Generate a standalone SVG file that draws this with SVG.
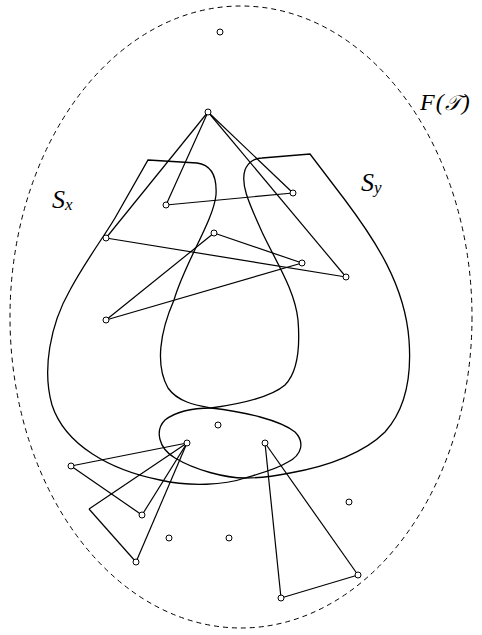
<svg xmlns="http://www.w3.org/2000/svg" width="482" height="635" viewBox="0 0 482 635">
<style>
.pt{fill:#fff;stroke:#000;stroke-width:1}
.ln{stroke:#000;stroke-width:1.2;fill:none}
.rg{stroke:#000;stroke-width:1.3;fill:none}
.bd{stroke:#000;stroke-width:1;fill:none;stroke-dasharray:5,4}
.lb{font-family:"Liberation Serif","DejaVu Serif",serif;font-style:italic;fill:#000}
</style>
<rect width="482" height="635" fill="#fff"/>
<g id="boundary">
<ellipse class="bd" cx="241" cy="317" rx="231" ry="311"/>
<text class="lb" x="420" y="110" font-size="24" letter-spacing="1">F(<tspan font-family="DejaVu Sans, DejaVu Serif, serif" font-size="21">𝒯</tspan>)</text>
</g>
<g id="Sx">
<path class="rg" d="M148,160 L197,163 C212,165 217,178 216,195 C213,222 185,262 174,300 C160,332 155,365 168,388 C178,402 195,405 211,408 C245,412 280,420 295,432 C305,442 302,455 288,462 C275,470 258,474 245,478 C225,485 190,487 160,480 C110,470 65,445 52,405 C42,370 50,325 70,290 C85,262 105,235 115,218 L148,160 Z"/>
<text class="lb" x="52" y="208" font-size="26">S<tspan font-size="17" dy="2">x</tspan></text>
</g>
<g id="Sy">
<path class="rg" d="M262,158 L310,154 L345,200 C375,240 405,285 409,340 C412,380 405,410 385,432 C365,452 330,466 290,473 C270,477 255,478 245,478 C225,478 195,470 175,458 C158,448 155,430 165,420 C178,410 195,408 211,408 C240,404 270,398 285,385 C298,372 300,345 298,320 C295,290 275,260 262,232 C250,205 240,185 245,170 C248,162 255,158 262,158 Z"/>
<text class="lb" x="361" y="191" font-size="26">S<tspan font-size="17" dy="2">y</tspan></text>
</g>
<g id="edges">
<line class="ln" x1="208" y1="112" x2="166" y2="205"/>
<line class="ln" x1="208" y1="112" x2="106" y2="238"/>
<line class="ln" x1="208" y1="112" x2="293" y2="193"/>
<line class="ln" x1="208" y1="112" x2="346" y2="277"/>
<line class="ln" x1="166" y1="205" x2="293" y2="193"/>
<line class="ln" x1="106" y1="238" x2="346" y2="277"/>
<line class="ln" x1="214" y1="233" x2="302" y2="263"/>
<line class="ln" x1="214" y1="233" x2="106" y2="320"/>
<line class="ln" x1="106" y1="320" x2="302" y2="263"/>
<line class="ln" x1="187" y1="443" x2="71" y2="466"/>
<line class="ln" x1="187" y1="443" x2="142" y2="515"/>
<line class="ln" x1="71" y1="466" x2="142" y2="515"/>
<line class="ln" x1="187" y1="443" x2="89" y2="509"/>
<line class="ln" x1="89" y1="509" x2="136" y2="562"/>
<line class="ln" x1="187" y1="443" x2="136" y2="562"/>
<line class="ln" x1="265" y1="443" x2="281" y2="598"/>
<line class="ln" x1="265" y1="443" x2="358" y2="575"/>
<line class="ln" x1="281" y1="598" x2="358" y2="575"/>
</g>
<g id="n0"><circle class="pt" cx="220" cy="32" r="3"/></g>
<g id="n1"><circle class="pt" cx="208" cy="112" r="3"/></g>
<g id="n2"><circle class="pt" cx="166" cy="205" r="3"/></g>
<g id="n3"><circle class="pt" cx="293" cy="193" r="3"/></g>
<g id="n4"><circle class="pt" cx="106" cy="238" r="3"/></g>
<g id="n5"><circle class="pt" cx="214" cy="233" r="3"/></g>
<g id="n6"><circle class="pt" cx="302" cy="263" r="3"/></g>
<g id="n7"><circle class="pt" cx="346" cy="277" r="3"/></g>
<g id="n8"><circle class="pt" cx="106" cy="320" r="3"/></g>
<g id="n9"><circle class="pt" cx="218" cy="425" r="3"/></g>
<g id="n10"><circle class="pt" cx="187" cy="443" r="3"/></g>
<g id="n11"><circle class="pt" cx="265" cy="443" r="3"/></g>
<g id="n12"><circle class="pt" cx="71" cy="466" r="3"/></g>
<g id="n13"><circle class="pt" cx="142" cy="515" r="3"/></g>
<g id="n14"><circle class="pt" cx="136" cy="562" r="3"/></g>
<g id="n15"><circle class="pt" cx="169" cy="538" r="3"/></g>
<g id="n16"><circle class="pt" cx="229" cy="538" r="3"/></g>
<g id="n17"><circle class="pt" cx="349" cy="502" r="3"/></g>
<g id="n18"><circle class="pt" cx="358" cy="575" r="3"/></g>
<g id="n19"><circle class="pt" cx="281" cy="598" r="3"/></g>
</svg>
